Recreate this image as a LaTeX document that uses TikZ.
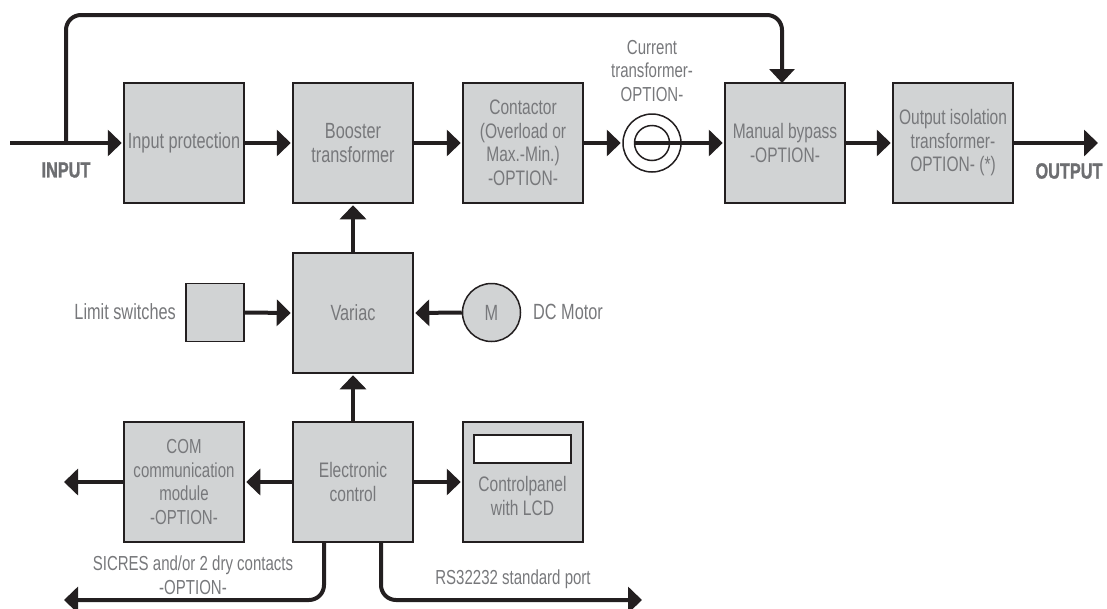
\documentclass[tikz,border=0pt]{standalone}
\usepackage{fontspec}
\setmainfont{Liberation Sans}[FakeStretch=0.74]
\newfontfamily\lsbold{Liberation Sans Bold}[FakeStretch=0.74,FakeBold=1.2]
\usetikzlibrary{arrows.meta}
\definecolor{boxfill}{HTML}{D1D3D4}
\definecolor{ink}{HTML}{231F20}
\definecolor{txt}{HTML}{77787B}
\definecolor{boldtxt}{HTML}{6D6E71}
\tikzset{
  x=1pt,y=-1pt,
  bigtext/.style={font=\fontsize{22}{23.5}\selectfont},
  midtext/.style={font=\fontsize{21}{23.5}\selectfont},
  lowtext/.style={font=\fontsize{20.3}{23.5}\selectfont},
  blockbox/.style={draw=ink,fill=boxfill,line width=1.5pt,minimum width=120pt,minimum height=120pt,inner sep=0pt,text=txt,align=center,midtext},
  smallbox/.style={blockbox,minimum width=58pt,minimum height=58pt},
  lbl/.style={text=txt,align=center,inner sep=0pt,midtext},
  boldlbl/.style={text=boldtxt,inner sep=0pt,font=\fontsize{22}{23.5}\lsbold},
  conn/.style={draw=ink,line width=4pt,-{Triangle[length=14pt,width=26pt]},shorten >=1.5pt},
  bareline/.style={draw=ink,line width=4pt},
  ringthin/.style={draw=ink,line width=1.5pt,circle,inner sep=0pt}
}
\begin{document}
\begin{tikzpicture}
\useasboundingbox (0,0) rectangle (1107,608);
% blocks
\node[blockbox,bigtext] (input) at (184,143) {Input protection};
\node[blockbox,bigtext] (booster) at (353,143) {Booster\\transformer};
\node[blockbox] (contactor) at (523,143) {Contactor\\(Overload or\\Max.-Min.)\\-OPTION-};
\node[blockbox] (bypass) at (785,143) {Manual bypass\\-OPTION-};
\node[blockbox] (iso) at (953,143) {Output isolation\\transformer-\\OPTION- (*)};
\node[blockbox,bigtext] (variac) at (353,313) {Variac};
\node[smallbox] (limit) at (215,312.5) {};
\node[draw=ink,fill=boxfill,line width=1.5pt,circle,minimum size=58pt,inner sep=0pt,text=txt,bigtext] (motor) at (491.5,312.5) {M};
\node[blockbox,lowtext] (com) at (184,482) {COM\\communication\\module\\-OPTION-};
\node[blockbox] (ctrl) at (353,482) {Electronic\\control};
\node[blockbox] (panel) at (523,482) {};
\node[draw=ink,fill=white,line width=1.5pt,minimum width=97pt,minimum height=28pt,inner sep=0pt] (lcd) at (522.5,449) {};
\node[lbl] (paneltext) at (522.5,496) {Controlpanel\\with LCD};
% current transformer
\node[ringthin,minimum size=58pt] (ctouter) at (652,143) {};
\node[ringthin,minimum size=35pt] (ctinner) at (652,143) {};
% labels
\node[lbl,lowtext] (ctlabel) at (652,71) {Current\\transformer-\\OPTION-};
\node[boldlbl,anchor=center] (inlabel) at (66,170) {INPUT};
\node[boldlbl,anchor=center] (outlabel) at (1069,171) {OUTPUT};
\node[lbl,bigtext,anchor=east] (limlabel) at (176,312) {Limit switches};
\node[lbl,bigtext,anchor=west] (dclabel) at (533,312) {DC Motor};
\node[lbl,lowtext] (sicres) at (193,565) {SICRES and/or 2 dry contacts};
\node[lbl,lowtext] (sicopt) at (193,588) {-OPTION-};
\node[lbl,lowtext] (rslabel) at (513,579) {RS32232 standard port};
% free ends
\coordinate (instart) at (10,143);
\coordinate (junction) at (66,143);
\coordinate (topleft) at (66,15);
\coordinate (topright) at (782,15);
\coordinate (bypasstop) at (782,83);
\coordinate (outend) at (1099.5,143);
\coordinate (comend) at (62.5,482);
\coordinate (sicend) at (62.5,600);
\coordinate (rsend) at (643.5,600);
\coordinate (sicstart) at (324,542);
\coordinate (sicbot) at (324,600);
\coordinate (rsstart) at (381,542);
\coordinate (rsbot) at (381,600);
% connectors
\draw[conn] (instart) -- (input.west);
\draw[bareline,rounded corners=15pt,-{Triangle[length=14pt,width=25pt]}] (junction) -- (topleft) -- (topright) -- (bypasstop);
\draw[conn] (input.east) -- (booster.west);
\draw[conn] (booster.east) -- (contactor.west);
\draw[conn] (contactor.east) -- (ctouter.west);
\draw[conn] (ctinner.west) -- (bypass.west);
\draw[conn] (bypass.east) -- (iso.west);
\draw[conn] (iso.east) -- (outend);
\draw[conn] (variac.north) -- (booster.south);
\draw[conn] (limit.east) -- (variac.west);
\draw[conn] (motor.west) -- (variac.east);
\draw[conn] (ctrl.north) -- (variac.south);
\draw[conn] (ctrl.west) -- (com.east);
\draw[conn] (com.west) -- (comend);
\draw[conn] (ctrl.east) -- (panel.west);
\draw[conn,rounded corners=15pt] (sicstart) -- (sicbot) -- (sicend);
\draw[conn,rounded corners=15pt] (rsstart) -- (rsbot) -- (rsend);
\end{tikzpicture}
\end{document}
